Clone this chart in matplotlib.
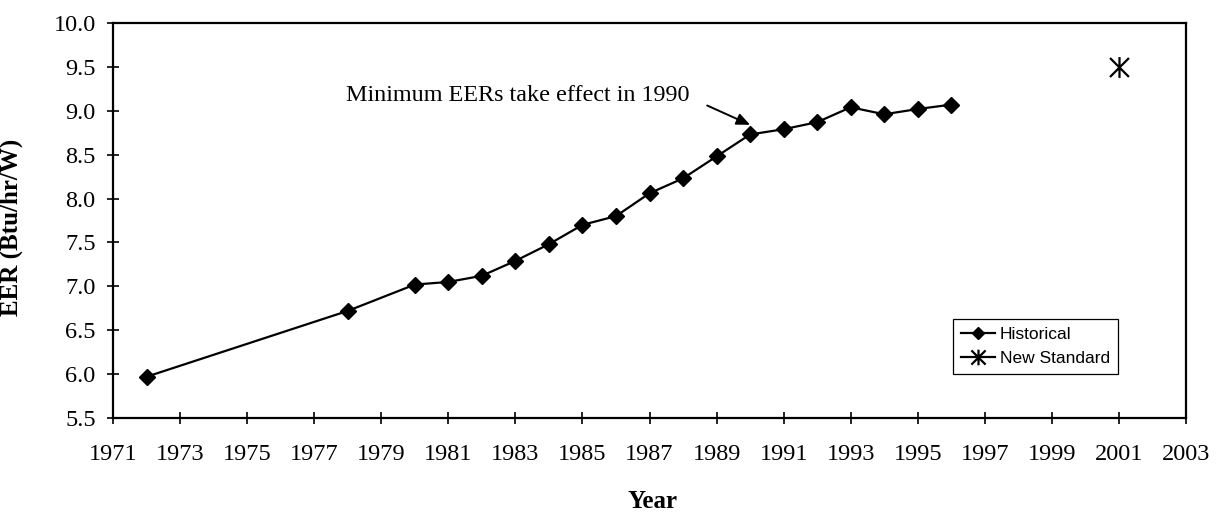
import matplotlib
matplotlib.use("Agg")
import matplotlib.pyplot as plt
from matplotlib.path import Path

# ---- data ----
hist_years = [1972, 1978, 1980, 1981, 1982, 1983, 1984, 1985, 1986, 1987, 1988,
              1989, 1990, 1991, 1992, 1993, 1994, 1995, 1996]
hist_eer = [5.97, 6.72, 7.02, 7.05, 7.12, 7.29, 7.48, 7.70, 7.80, 8.06, 8.23,
            8.48, 8.73, 8.79, 8.87, 9.04, 8.96, 9.02, 9.07]
std_years = [2001]
std_eer = [9.5]
x_ticks = list(range(1971, 2004, 2))
y_ticks = [5.5, 6.0, 6.5, 7.0, 7.5, 8.0, 8.5, 9.0, 9.5, 10.0]
annotation_text = "Minimum EERs take effect in 1990"

plt.rcParams['font.family'] = ['Liberation Serif', 'DejaVu Serif']

fig = plt.figure(figsize=(12.16, 5.14), dpi=100)
ax = fig.add_axes([113/1216, 1-418/514, (1186-113)/1216, (418-23)/514])

# star marker: X plus vertical bar
star = Path([(-1, -1), (1, 1), (-1, 1), (1, -1), (0, -1.1), (0, 1.1)],
            [Path.MOVETO, Path.LINETO, Path.MOVETO, Path.LINETO, Path.MOVETO, Path.LINETO])

ax.plot(hist_years, hist_eer, color='black', lw=1.6, marker='D', markersize=7.8,
        markerfacecolor='black', markeredgecolor='black', label='Historical')
ax.plot(std_years, std_eer, color='black', lw=1.6, marker=star, markersize=15,
        markeredgewidth=1.6, linestyle='-', label='New Standard')

ax.set_xlim(1971, 2003)
ax.set_ylim(5.5, 10.0)
ax.set_xticks(x_ticks)
ax.set_yticks(y_ticks)
ax.set_yticklabels([f"{v:.1f}" for v in y_ticks])
ax.tick_params(axis='both', direction='inout', length=9, width=1.2, labelsize=17.5,
               colors='black')
ax.tick_params(axis='x', pad=14)
ax.tick_params(axis='y', pad=8)
for s in ax.spines.values():
    s.set_linewidth(1.6)
    s.set_color('black')

ax.set_ylabel('EER (Btu/hr/W)', fontsize=18, fontweight='bold')
ax.yaxis.set_label_coords(-(113-23)/1073, (418-227)/395, transform=ax.transAxes)
fig.text(652/1216, 6/514, 'Year', ha='center', va='baseline',
         fontsize=18, fontweight='bold')

ax.text(1988.2, 9.17, annotation_text, ha='right', va='center', fontsize=17.4)
ax.annotate('', xy=(1990.0, 8.84), xytext=(1988.72, 9.06),
            arrowprops=dict(arrowstyle='-|>,head_length=0.8,head_width=0.35',
                            color='black', lw=1.4, shrinkA=0, shrinkB=0))

leg = ax.legend(loc='lower left', bbox_to_anchor=(0.783, 0.111),
                prop={'family': 'Liberation Sans', 'size': 12.5},
                frameon=True, fancybox=False, framealpha=1, edgecolor='black',
                handlelength=1.95, handletextpad=0.3, borderpad=0.45,
                labelspacing=0.55, borderaxespad=0, markerscale=0.75)
leg.get_frame().set_linewidth(0.9)

fig.savefig('out.png', dpi=100)
